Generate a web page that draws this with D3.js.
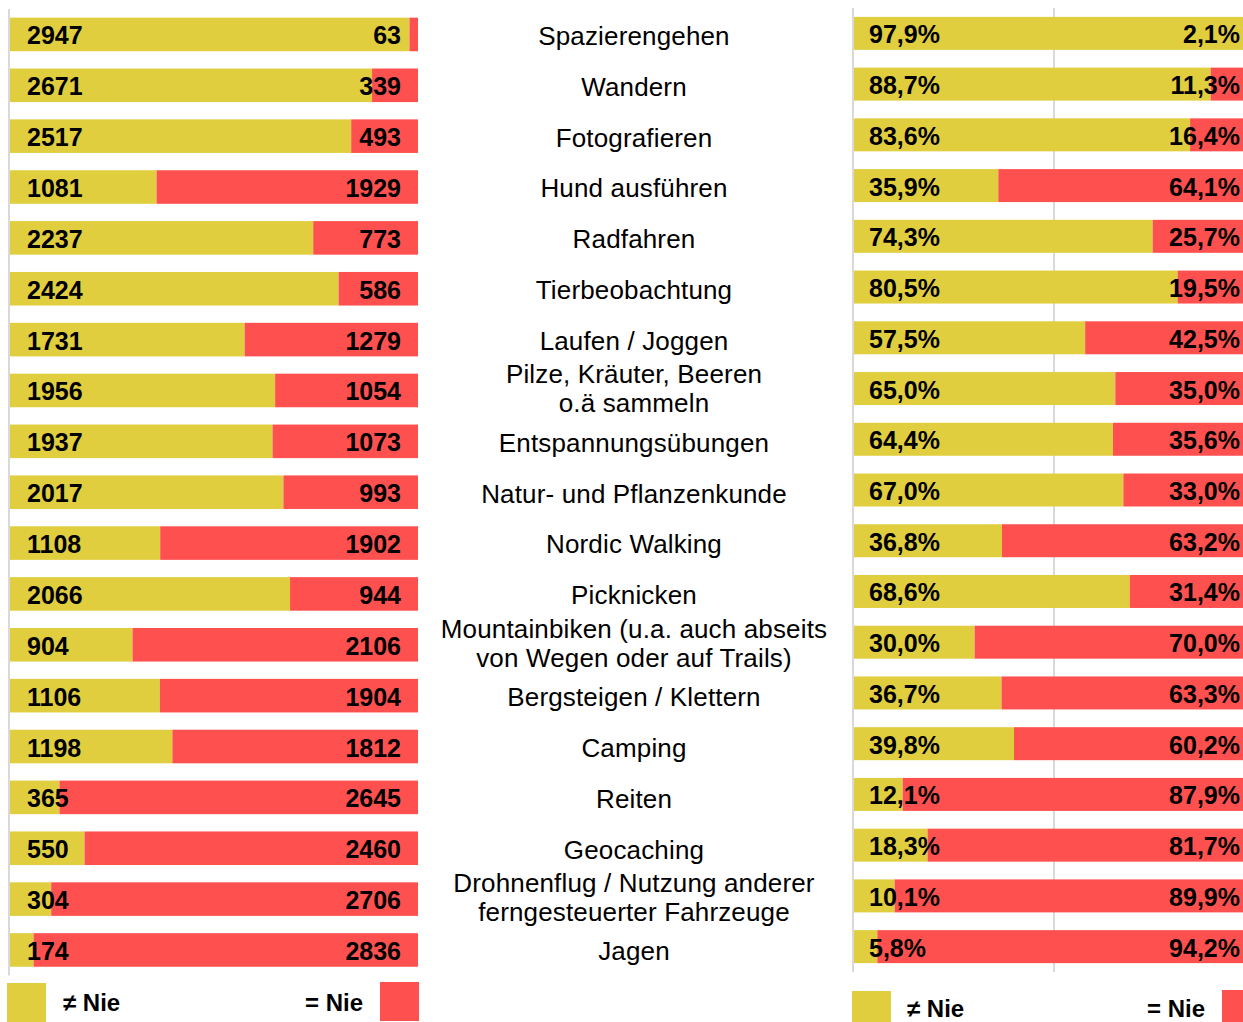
<!DOCTYPE html>
<html lang="de">
<head>
    <meta charset="UTF-8">
    <title>Aktivitäten – Nie / nicht Nie</title>
    <style>
        html, body {
            margin: 0px;
            padding: 0px;
            background-color: white;
            font-family: 'Liberation Sans', Arial, sans-serif;
        }
        #vis {
            width: 1243px;
            height: 1022px;
            overflow: hidden;
        }
        text.val {
            font-size: 25px;
            font-weight: bold;
            fill: #000;
        }
        text.cat {
            font-size: 26px;
            letter-spacing: 0.15px;
            fill: #000;
        }
        text.leg {
            font-size: 24px;
            font-weight: bold;
            fill: #000;
        }
    </style>
</head>
<body>
    <div id="vis"></div>
    <script src="https://d3js.org/d3.v7.min.js"></script>
    <script>

        // categories, "\n" marks a line break in the middle column
        var categories = [
            "Spazierengehen", "Wandern", "Fotografieren", "Hund ausführen", "Radfahren",
            "Tierbeobachtung", "Laufen / Joggen", "Pilze, Kräuter, Beeren\no.ä sammeln",
            "Entspannungsübungen", "Natur- und Pflanzenkunde", "Nordic Walking", "Picknicken",
            "Mountainbiken (u.a. auch abseits\nvon Wegen oder auf Trails)", "Bergsteigen / Klettern",
            "Camping", "Reiten", "Geocaching", "Drohnenflug / Nutzung anderer\nferngesteuerter Fahrzeuge",
            "Jagen"
        ];

        // counts: not "Nie" / "Nie"
        var countYes = [2947, 2671, 2517, 1081, 2237, 2424, 1731, 1956, 1937, 2017, 1108, 2066, 904, 1106, 1198, 365, 550, 304, 174];
        var countNo  = [63, 339, 493, 1929, 773, 586, 1279, 1054, 1073, 993, 1902, 944, 2106, 1904, 1812, 2645, 2460, 2706, 2836];

        // shares in percent
        var pctYes = [97.9, 88.7, 83.6, 35.9, 74.3, 80.5, 57.5, 65.0, 64.4, 67.0, 36.8, 68.6, 30.0, 36.7, 39.8, 12.1, 18.3, 10.1, 5.8];
        var pctNo  = [2.1, 11.3, 16.4, 64.1, 25.7, 19.5, 42.5, 35.0, 35.6, 33.0, 63.2, 31.4, 70.0, 63.3, 60.2, 87.9, 81.7, 89.9, 94.2];

        var legendLabels = ["\u2260 Nie", "= Nie"];

        var yellow = "#e0ce3e";
        var red = "#ff5050";
        var grid = "#d9d9d9";

        var width = 1243;
        var height = 1022;

        var svg = d3.select("#vis")
            .append("svg")
            .attr("width", width)
            .attr("height", height);

        var rows = d3.range(categories.length);

        // ---- left panel: absolute counts ----
        var xLeft = d3.scaleLinear()
            .domain([0, 3010])
            .range([10, 418]);

        var yLeft = d3.scaleBand()
            .domain(rows)
            .range([9, 975.4])
            .paddingInner(0.34)
            .paddingOuter(0.17);

        // ---- right panel: percentages ----
        var xRight = d3.scaleLinear()
            .domain([0, 100])
            .range([854, 1256]);

        var yRight = d3.scaleBand()
            .domain(rows)
            .range([8, 972])
            .paddingInner(0.35)
            .paddingOuter(0.175);

        // grid lines on the right panel
        svg.selectAll(".gridR")
            .data([0, 50])
            .enter()
            .append("line")
            .attr("class", "gridR")
            .attr("x1", function(d){ return xRight(d) - 1; })
            .attr("x2", function(d){ return xRight(d) - 1; })
            .attr("y1", yRight.range()[0])
            .attr("y2", yRight.range()[1])
            .attr("stroke", grid)
            .attr("stroke-width", 2);

        // left axis line
        svg.append("line")
            .attr("x1", xLeft(0) - 1)
            .attr("x2", xLeft(0) - 1)
            .attr("y1", yLeft.range()[0])
            .attr("y2", yLeft.range()[1])
            .attr("stroke", grid)
            .attr("stroke-width", 2);

        function drawPanel(cls, x, y, yesVals, noVals, total, fmt, leftX, rightX) {
            var g = svg.append("g").attr("class", cls);

            g.selectAll(".yes")
                .data(rows)
                .enter()
                .append("rect")
                .attr("class", "yes")
                .attr("x", x(0))
                .attr("y", function(i){ return y(i); })
                .attr("width", function(i){ return x(yesVals[i]) - x(0); })
                .attr("height", y.bandwidth())
                .attr("fill", yellow);

            g.selectAll(".no")
                .data(rows)
                .enter()
                .append("rect")
                .attr("class", "no")
                .attr("x", function(i){ return x(yesVals[i]); })
                .attr("y", function(i){ return y(i); })
                .attr("width", function(i){ return x(total) - x(yesVals[i]); })
                .attr("height", y.bandwidth())
                .attr("fill", red);

            g.selectAll(".valYes")
                .data(rows)
                .enter()
                .append("text")
                .attr("class", "val")
                .attr("x", leftX)
                .attr("y", function(i){ return y(i) + y.bandwidth() / 2; })
                .attr("dy", "0.4em")
                .text(function(i){ return fmt(yesVals[i]); });

            g.selectAll(".valNo")
                .data(rows)
                .enter()
                .append("text")
                .attr("class", "val")
                .attr("x", rightX)
                .attr("y", function(i){ return y(i) + y.bandwidth() / 2; })
                .attr("dy", "0.4em")
                .attr("text-anchor", "end")
                .text(function(i){ return fmt(noVals[i]); });
        }

        drawPanel("left", xLeft, yLeft, countYes, countNo, 3010,
            function(v){ return String(v); }, 27, 401);

        drawPanel("right", xRight, yRight, pctYes, pctNo, 100,
            function(v){ return v.toFixed(1).replace(".", ",") + "%"; }, 869, 1240);

        // ---- category names in the middle ----
        var cats = svg.selectAll(".cat")
            .data(rows)
            .enter()
            .append("text")
            .attr("class", "cat")
            .attr("text-anchor", "middle")
            .attr("x", 634)
            .attr("y", function(i){
                var c = yLeft(i) + yLeft.bandwidth() / 2 + 1;
                var n = categories[i].split("\n").length;
                return c - (n - 1) * 14.5 - (n > 1 ? 3 : 0);
            });

        cats.each(function(i){
            var t = d3.select(this);
            categories[i].split("\n").forEach(function(line, k){
                t.append("tspan")
                    .attr("x", 634)
                    .attr("dy", k === 0 ? "0.36em" : "29px")
                    .text(line);
            });
        });

        // ---- legends ----
        function legend(y0, sqL, sqR, txtL, txtR, base) {
            svg.append("rect")
                .attr("x", sqL).attr("y", y0)
                .attr("width", 39).attr("height", 39)
                .attr("fill", yellow);
            svg.append("rect")
                .attr("x", sqR).attr("y", y0 - 1)
                .attr("width", 39).attr("height", 39)
                .attr("fill", red);
            svg.append("text")
                .attr("class", "leg")
                .attr("x", txtL).attr("y", base)
                .text(legendLabels[0]);
            svg.append("text")
                .attr("class", "leg")
                .attr("x", txtR).attr("y", base)
                .attr("text-anchor", "end")
                .text(legendLabels[1]);
        }

        legend(983, 7, 380, 63, 363, 1011);
        legend(991, 852, 1222, 907, 1205, 1017);

    </script>
</body>
</html>
